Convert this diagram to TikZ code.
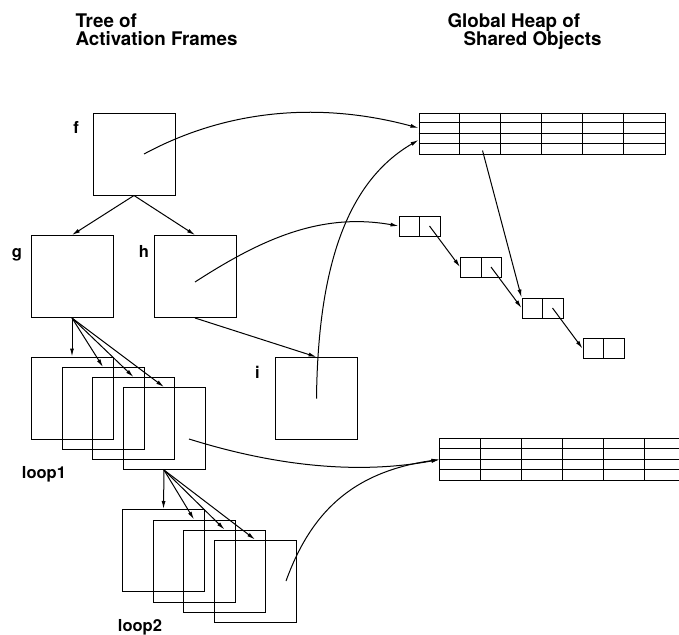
\documentclass[tikz,border=0pt]{standalone}
\usepackage{fontspec}
\setmainfont{TeX Gyre Heros}
\usetikzlibrary{arrows.meta,positioning}

\begin{document}
\begin{tikzpicture}[
      x=1pt, y=-1pt,
      line width=1pt,
      >={Latex[length=8pt,width=4pt]},
      frame/.style={draw, minimum width=82pt, minimum height=82pt, inner sep=0pt},
      cell/.style={draw, minimum width=41pt, minimum height=20pt, inner sep=0pt,
        path picture={\draw (path picture bounding box.north) -- (path picture bounding box.south);}},
      heapbox/.style={minimum height=41pt, inner sep=0pt},
      lbl/.style={font=\fontsize{16.5}{18}\selectfont\bfseries, inner sep=0pt, anchor=base},
      head/.style={font=\fontsize{18.8}{18.5}\selectfont\bfseries, align=left, inner sep=0pt, anchor=north west}
    ]
    \useasboundingbox (0,0) rectangle (679,634);

    \node[head] (treehead) at (75,13) {Tree of\\Activation Frames};
    \node[head] (heaphead) at (447,13) {Global Heap of\\\hspace*{16pt}Shared Objects};

    % activation frames
    \node[frame] (f) at (134,154) {};
    \node[frame] (g) at (72,276.5) {};
    \node[frame] (h) at (195,276.5) {};
    \node[frame] (i) at (316.5,398.5) {};

    \node[frame] (loopAa) at (72,398) {};
    \node[frame] (loopAb) at (103,408.5) {};
    \node[frame] (loopAc) at (133.5,418.5) {};
    \node[frame] (loopAd) at (164,428.5) {};

    \node[frame] (loopBa) at (163.5,550.5) {};
    \node[frame] (loopBb) at (194,561) {};
    \node[frame] (loopBc) at (224.5,571) {};
    \node[frame] (loopBd) at (255,581) {};

    \node[lbl] (flbl) at (76,133) {f};
    \node[lbl] (glbl) at (17,257) {g};
    \node[lbl] (hlbl) at (144,257) {h};
    \node[lbl] (ilbl) at (257.5,378) {i};
    \node[lbl] (loopAlbl) at (44,478) {loop1};
    \node[lbl] (loopBlbl) at (140,631) {loop2};

    % shared objects
    \node[heapbox, draw, minimum width=246pt] (heap1) at (542,133.5) {};
    \foreach \k in {1,...,5}
      \draw ([xshift=\k*41pt]heap1.north west) -- ([xshift=\k*41pt]heap1.south west);
    \foreach \k in {1,2,3}
      \draw ([yshift=-\k*10.25pt]heap1.north west) -- ([yshift=-\k*10.25pt]heap1.north east);

    \node[heapbox, minimum width=239pt] (heap2) at (559.5,459.5) {};
    \draw (heap2.north east) -- (heap2.north west) -- (heap2.south west) -- (heap2.south east);
    \foreach \k in {1,...,5}
      \draw ([xshift=\k*41pt]heap2.north west) -- ([xshift=\k*41pt]heap2.south west);
    \foreach \k in {1,2,3}
      \draw ([yshift=-\k*10.25pt]heap2.north west) -- ([yshift=-\k*10.25pt]heap2.north east);

    \node[cell] (c1) at (419.5,226) {};
    \node[cell] (c2) at (481,267) {};
    \node[cell] (c3) at (542.5,308) {};
    \node[cell] (c4) at (603.5,348.5) {};

    % tree edges
    \draw[->] (f.south) -- (g.north);
    \draw[->] (f.south) -- (h.north);
    \draw[->] (h.south) -- (i.north);
    \draw[->] (g.south) -- (loopAa.north);
    \draw[->] (g.south) -- (loopAb.north);
    \draw[->] (g.south) -- (loopAc.north);
    \draw[->] (g.south) -- (loopAd.north);
    \draw[->] (loopAd.south) -- (loopBa.north);
    \draw[->] (loopAd.south) -- (loopBb.north);
    \draw[->] (loopAd.south) -- (loopBc.north);
    \draw[->] (loopAd.south) -- (loopBd.north);

    % pointers
    \draw[->] ([xshift=10pt]f.center) .. controls (235,105) and (330,104) .. ([yshift=5.5pt]heap1.west);
    \draw[->] ([yshift=-5.5pt]h.center) .. controls (260,240) and (320,212) .. (c1.west);
    \draw[->] (i.center) .. controls (318,260) and (350,180) .. ([yshift=-6.5pt]heap1.west);
    \draw[->] ([shift={(64pt,4pt)}]heap1.south west) -- (c3.north west);
    \draw[->] ([xshift=10pt]c1.center) -- (c2.west);
    \draw[->] ([xshift=10pt]c2.center) -- (c3.west);
    \draw[->] ([xshift=10pt]c3.center) -- (c4.west);
    \draw[->] ([shift={(25pt,-10.5pt)}]loopAd.center) .. controls (250,458) and (340,478) .. (heap2.west);
    \draw[->] ([xshift=31pt]loopBd.center) .. controls (310,515) and (350,472) .. (heap2.west);
  \end{tikzpicture}
\end{document}
